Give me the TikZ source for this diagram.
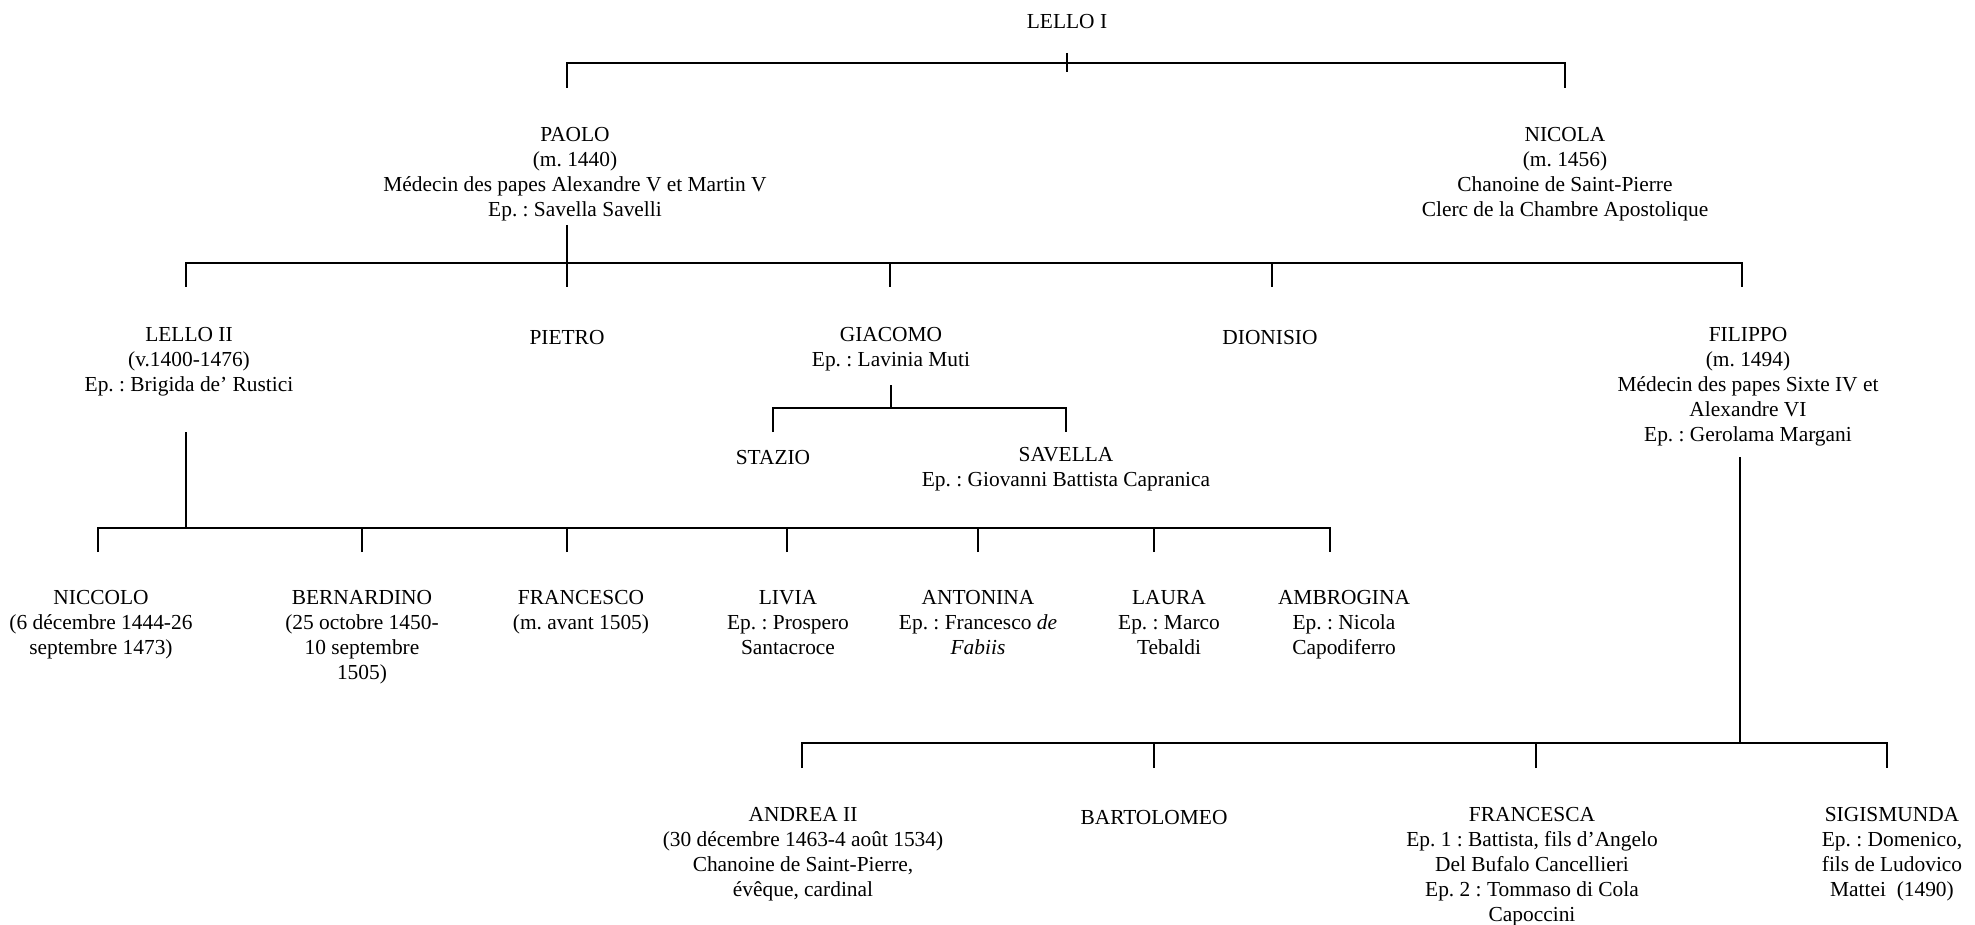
\documentclass[tikz,border=0pt]{standalone}
\usepackage{fontspec}
\setmainfont{Liberation Serif}
\frenchspacing
\newcommand{\personfont}{\fontsize{10.7}{12.5}\selectfont}
\tikzset{
  person/.style={anchor=north,yshift=4.25pt,align=center,inner sep=0pt,
    font=\personfont,execute at begin node=\strut},
  tie/.style={line width=1pt,draw=black}
}
\begin{document}
\begin{tikzpicture}[x=0.5pt,y=-0.5pt]
  \path[fill=white,use as bounding box] (0,0) rectangle (1975,925);
  % people
  \node[person] (lello1) at (1067,19) {LELLO I};
  \node[person] (paolo) at (575,135) {PAOLO\\(m. 1440)\\Médecin des papes Alexandre V et Martin V\\Ep. : Savella Savelli};
  \node[person] (nicola) at (1565,135) {NICOLA\\(m. 1456)\\Chanoine de Saint-Pierre\\Clerc de la Chambre Apostolique};
  \node[person] (lello2) at (189,335) {LELLO II\\(v.1400-1476)\\Ep. : Brigida de’ Rustici};
  \node[person] (pietro) at (567,335) {PIETRO};
  \node[person] (giacomo) at (891,335) {GIACOMO\\Ep. : Lavinia Muti};
  \node[person] (dionisio) at (1270,335) {DIONISIO};
  \node[person] (filippo) at (1748,335) {FILIPPO\\(m. 1494)\\Médecin des papes Sixte IV et\\Alexandre VI\\Ep. : Gerolama Margani};
  \node[person] (stazio) at (773,455) {STAZIO};
  \node[person] (savella) at (1066,455) {SAVELLA\\Ep. : Giovanni Battista Capranica};
  \node[person] (niccolo) at (101,598) {NICCOLO\\(6 décembre 1444-26\\septembre 1473)};
  \node[person] (bernardino) at (362,598) {BERNARDINO\\(25 octobre 1450-\\10 septembre\\1505)};
  \node[person] (francesco) at (581,598) {FRANCESCO\\(m. avant 1505)};
  \node[person] (livia) at (788,598) {LIVIA\\Ep. : Prospero\\Santacroce};
  \node[person] (antonina) at (978,598) {ANTONINA\\Ep. : Francesco \textit{de}\\\textit{Fabiis}};
  \node[person] (laura) at (1169,598) {LAURA\\Ep. : Marco\\Tebaldi};
  \node[person] (ambrogina) at (1344,598) {AMBROGINA\\Ep. : Nicola\\Capodiferro};
  \node[person] (andrea) at (803,815) {ANDREA II\\(30 décembre 1463-4 août 1534)\\Chanoine de Saint-Pierre,\\évêque, cardinal};
  \node[person] (bartolomeo) at (1154,815) {BARTOLOMEO};
  \node[person] (francesca) at (1532,815) {FRANCESCA\\Ep. 1 : Battista, fils d’Angelo\\Del Bufalo Cancellieri\\Ep. 2 : Tommaso di Cola\\Capoccini};
  \node[person] (sigismunda) at (1892,815) {SIGISMUNDA\\Ep. : Domenico,\\fils de Ludovico\\Mattei~ (1490)};
  % stems and bars
  \coordinate (lello1-stem) at (1067,53);
  \coordinate (lello1-end) at (1067,72);
  \coordinate (lello1-bar) at (1067,63);
  \coordinate (paolo-up) at (567,88);
  \coordinate (nicola-up) at (1565,88);
  \coordinate (paolo-stem) at (567,225);
  \coordinate (paolo-bar) at (567,263);
  \coordinate (lello2-up) at (186,287);
  \coordinate (pietro-up) at (567,287);
  \coordinate (giacomo-up) at (890,287);
  \coordinate (dionisio-up) at (1272,287);
  \coordinate (filippo-up) at (1742,287);
  \coordinate (giacomo-stem) at (891,385);
  \coordinate (giacomo-bar) at (891,408);
  \coordinate (stazio-up) at (773,432);
  \coordinate (savella-up) at (1066,432);
  \coordinate (lello2-stem) at (186,432);
  \coordinate (lello2-bar) at (186,528);
  \coordinate (niccolo-up) at (98,552);
  \coordinate (bernardino-up) at (362,552);
  \coordinate (francesco-up) at (567,552);
  \coordinate (livia-up) at (787,552);
  \coordinate (antonina-up) at (978,552);
  \coordinate (laura-up) at (1154,552);
  \coordinate (ambrogina-up) at (1330,552);
  \coordinate (filippo-stem) at (1740,457);
  \coordinate (filippo-bar) at (1740,743);
  \coordinate (andrea-up) at (802,768);
  \coordinate (bartolomeo-up) at (1154,768);
  \coordinate (francesca-up) at (1536,768);
  \coordinate (sigismunda-up) at (1887,768);
  % lello I
  \draw[tie] (lello1-stem) -- (lello1-end);
  \draw[tie] (paolo-up) |- (lello1-bar) -| (nicola-up);
  % paolo
  \draw[tie] (paolo-stem) -- (paolo-bar);
  \draw[tie] (lello2-up) |- (paolo-bar) -| (filippo-up);
  \foreach \c in {pietro,giacomo,dionisio}
    \draw[tie] (\c-up) -- (\c-up |- paolo-bar);
  % giacomo
  \draw[tie] (giacomo-stem) -- (giacomo-bar);
  \draw[tie] (stazio-up) |- (giacomo-bar) -| (savella-up);
  % lello II
  \draw[tie] (lello2-stem) -- (lello2-bar);
  \draw[tie] (niccolo-up) |- (lello2-bar) -| (ambrogina-up);
  \foreach \c in {bernardino,francesco,livia,antonina,laura}
    \draw[tie] (\c-up) -- (\c-up |- lello2-bar);
  % filippo
  \draw[tie] (filippo-stem) -- (filippo-bar);
  \draw[tie] (andrea-up) |- (filippo-bar) -| (sigismunda-up);
  \foreach \c in {bartolomeo,francesca}
    \draw[tie] (\c-up) -- (\c-up |- filippo-bar);
\end{tikzpicture}
\end{document}
